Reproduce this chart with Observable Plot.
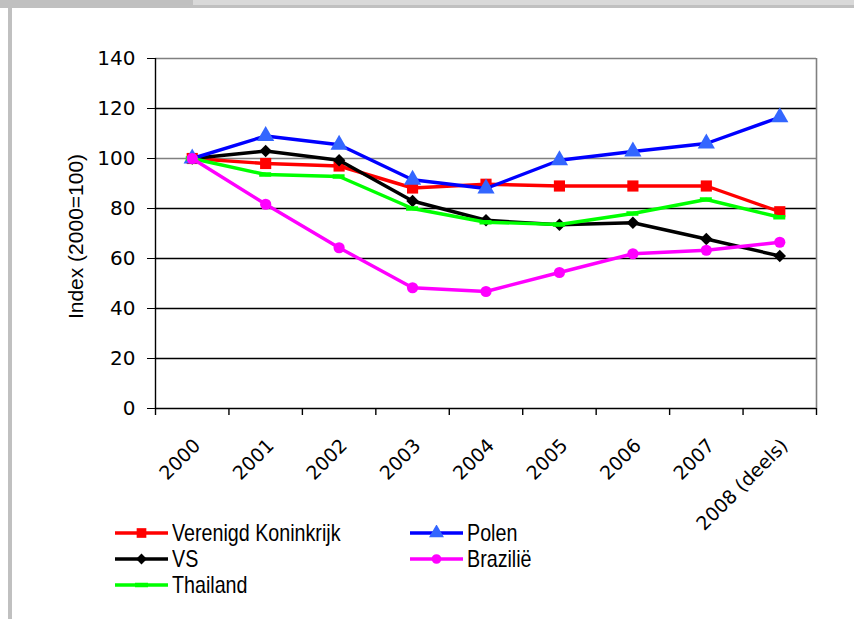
<!DOCTYPE html>
<html>
<head>
<meta charset="utf-8">
<script src="https://cdn.jsdelivr.net/npm/d3@7"></script>
<script src="https://cdn.jsdelivr.net/npm/@observablehq/plot@0.6"></script>
<style>
  html, body { margin: 0; padding: 0; background: #fff; }
  body { width: 854px; height: 619px; overflow: hidden; position: relative; }
  #topbar { position: absolute; left: 0; top: 0; width: 854px; height: 8px; background: #c0c0c0; }
  #titlebar { position: absolute; left: 193px; top: 0; width: 661px; height: 5px; background: #d9d9d9; }
  #leftborder { position: absolute; left: 8px; top: 8px; width: 4px; height: 611px; background: #c0c0c0; }
  #chart { position: absolute; left: 0; top: 0; }
  .item { position: absolute; display: flex; align-items: center; height: 26px;
          font-family: "Liberation Sans", Arial, sans-serif; font-size: 24px; color: #000; white-space: nowrap; }
  .item svg { margin-right: 4px; flex: none; }
  .item span { display: inline-block; transform: scaleX(0.82); transform-origin: left center; }
</style>
</head>
<body>
<div id="topbar"></div>
<div id="titlebar"></div>
<div id="leftborder"></div>
<div id="chart"></div>
<div id="legend"></div>
<script>
// ---- data ----
const categories = ["2000", "2001", "2002", "2003", "2004", "2005", "2006", "2007", "2008 (deels)"];
const seriesNames = ["Verenigd Koninkrijk", "Polen", "VS", "Brazilië", "Thailand"];
const ukValues       = [100, 98.0, 97.0, 88.2, 89.7, 89.0, 89.0, 89.0, 78.7];
const polenValues    = [100, 109.0, 105.5, 91.5, 88.0, 99.3, 102.8, 106.0, 116.5];
const vsValues       = [100, 103.0, 99.3, 83.0, 75.3, 73.5, 74.3, 67.8, 61.0];
const brazilieValues = [100, 81.7, 64.3, 48.3, 46.8, 54.4, 61.9, 63.3, 66.5];
const thailandValues = [100, 93.6, 92.8, 80.0, 74.5, 73.6, 78.0, 83.6, 76.5];
const yTicks = [0, 20, 40, 60, 80, 100, 120, 140];
const yLabel = "Index (2000=100)";

// ---- styling ----
const seriesStyle = {
  "Verenigd Koninkrijk": {stroke: "#ff0000", fill: "#ff0000", symbol: "square", r: 6.3},
  "Polen":               {stroke: "#0000ff", fill: "#3366ff", symbol: "triangle", r: 6.4},
  "VS":                  {stroke: "#000000", fill: "#000000", symbol: "diamond2", r: 5.6},
  "Brazilië":            {stroke: "#ff00ff", fill: "#ff00ff", symbol: "circle", r: 5.6},
  "Thailand":            {stroke: "#00ff00", fill: "#00ff00", symbol: null, r: 0}
};
const valuesBySeries = {
  "Verenigd Koninkrijk": ukValues, "Polen": polenValues, "VS": vsValues,
  "Brazilië": brazilieValues, "Thailand": thailandValues
};
const drawOrder = ["Verenigd Koninkrijk", "VS", "Polen", "Thailand", "Brazilië"];

const rows = [];
for (const s of seriesNames) valuesBySeries[s].forEach((v, i) => rows.push({series: s, i, cat: categories[i], value: v}));

const n = categories.length;
const boundaries = d3.range(n + 1).map(i => i - 0.5);
const tickFont = "DejaVu Sans, sans-serif";

const seriesMarks = [];
for (const s of drawOrder) {
  const st = seriesStyle[s];
  const data = rows.filter(d => d.series === s);
  seriesMarks.push(Plot.line(data, {x: "i", y: "value", stroke: st.stroke, strokeWidth: 3.4, strokeLinejoin: "round"}));
  if (st.symbol) seriesMarks.push(Plot.dot(data, {x: "i", y: "value", symbol: () => st.symbol, fill: st.fill, stroke: "none", r: st.r}));
  else seriesMarks.push(Plot.ruleY(data, {x1: "i", x2: "i", y: "value", stroke: st.stroke, strokeWidth: 4.5, insetLeft: -6, insetRight: -6}));
}

const chart = Plot.plot({
  width: 854,
  height: 500,
  marginLeft: 155,
  marginRight: 38,
  marginTop: 58,
  marginBottom: 92,
  style: {fontFamily: tickFont, fontSize: "20px", color: "#000", background: "transparent", overflow: "visible"},
  symbol: {type: "identity"},
  x: {type: "linear", domain: [-0.5, n - 0.5], axis: null},
  y: {domain: [0, 140], ticks: yTicks, tickSize: 8, tickPadding: 12, label: null, tickFormat: d => String(d)},
  marks: [
    Plot.ruleY(yTicks.filter(d => d !== 100 && d !== 140), {stroke: "#000", strokeWidth: 1.4}),
    Plot.ruleY(yTicks.filter(d => d === 100 || d === 140), {stroke: "#808080", strokeWidth: 1.6}),
    Plot.ruleX([boundaries[0]], {stroke: "#000", strokeWidth: 1.4}),
    Plot.ruleX([boundaries[n]], {stroke: "#808080", strokeWidth: 1.6}),
    Plot.ruleX(boundaries, {x: d => d, y1: () => 0, y2: () => 0, insetBottom: -7, stroke: "#000", strokeWidth: 1.4}),
    ...seriesMarks,
    Plot.text(categories.map((c, i) => ({c, i})), {x: "i", y: () => 0, text: "c", rotate: -45, textAnchor: "end",
      dx: 5, dy: 34, fontFamily: tickFont, fontSize: 19, fill: "#000"}),
    Plot.text([yLabel], {frameAnchor: "left", text: d => d, rotate: -90, textAnchor: "middle", dx: -79, dy: 3,
      fontFamily: "Liberation Sans, Arial, sans-serif", fontSize: 21, fill: "#000"})
  ]
});
document.getElementById("chart").appendChild(chart);

// ---- legend ----
const legendPos = {
  "Verenigd Koninkrijk": [115, 533], "Polen": [410, 533],
  "VS": [115, 559], "Brazilië": [410, 559],
  "Thailand": [115, 585]
};
const legend = document.getElementById("legend");
for (const s of seriesNames) {
  const st = seriesStyle[s];
  const [lx, ly] = legendPos[s];
  const item = document.createElement("div");
  item.className = "item";
  item.style.left = lx + "px";
  item.style.top = (ly - 13) + "px";
  const svg = d3.create("svg").attr("width", 53).attr("height", 16);
  svg.append("line").attr("x1", 0).attr("x2", 53).attr("y1", 8).attr("y2", 8)
    .attr("stroke", st.stroke).attr("stroke-width", 3.4);
  const symMap = {square: d3.symbolSquare, triangle: d3.symbolTriangle, diamond2: d3.symbolDiamond2, circle: d3.symbolCircle};
  if (st.symbol) {
    svg.append("path").attr("transform", "translate(26.5,8)")
      .attr("d", d3.symbol(symMap[st.symbol], Math.PI * st.r * st.r * 0.75)()).attr("fill", st.fill);
  } else {
    svg.append("line").attr("x1", 20).attr("x2", 33).attr("y1", 8).attr("y2", 8)
      .attr("stroke", st.stroke).attr("stroke-width", 4.5);
  }
  item.appendChild(svg.node());
  const span = document.createElement("span");
  span.textContent = s;
  item.appendChild(span);
  legend.appendChild(item);
}
</script>
</body>
</html>
